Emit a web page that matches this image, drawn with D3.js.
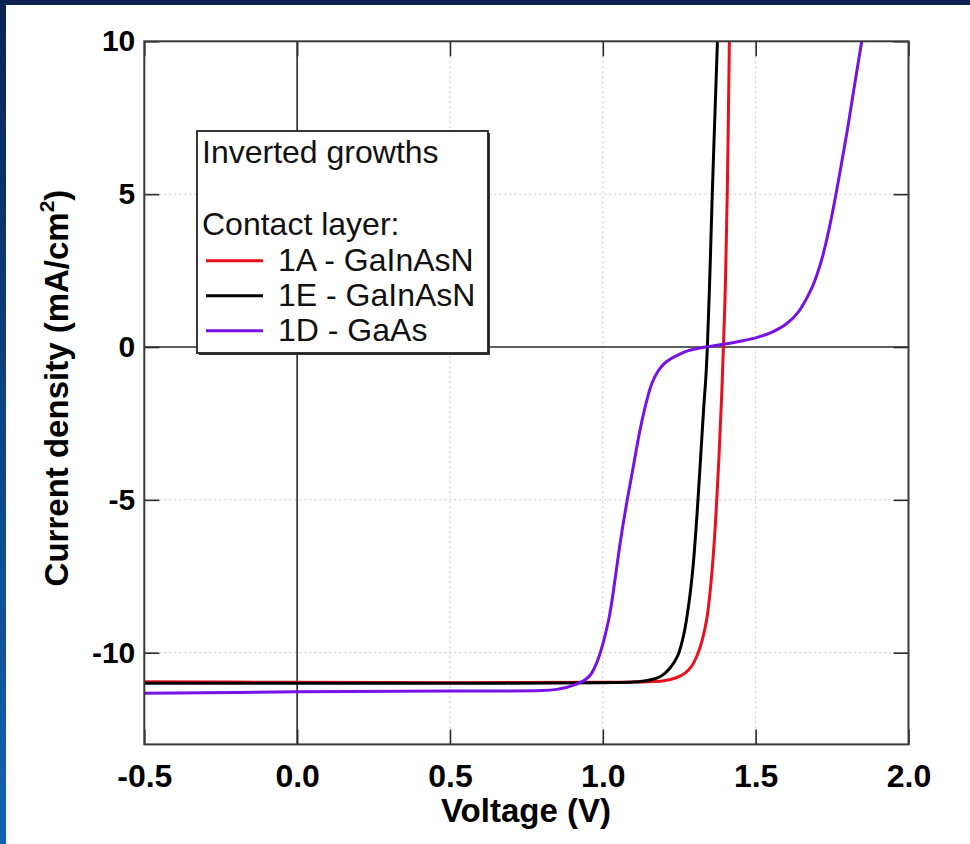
<!DOCTYPE html>
<html>
<head>
<meta charset="utf-8">
<script src="https://cdn.jsdelivr.net/npm/d3@7"></script>
<style>
  html, body { margin: 0; padding: 0; background: #ffffff; }
  svg { display: block; }
  text { font-family: "Liberation Sans", Arial, Helvetica, sans-serif; }
</style>
</head>
<body>
<svg id="chart" width="970" height="844"></svg>
<script>
// J–V curves of inverted growths, one series per contact layer
const voltage1A = [-0.5, 0.0, 0.5, 1.0, 1.1, 1.2, 1.24, 1.27, 1.29, 1.31, 1.325, 1.34, 1.35, 1.36, 1.37, 1.38, 1.39, 1.40, 1.407, 1.414];
const current1A = [-10.95, -10.97, -10.98, -10.97, -10.96, -10.92, -10.82, -10.66, -10.45, -10.05, -9.6, -8.9, -8.1, -7.0, -5.5, -3.6, -1.3, 1.7, 5.0, 10.0];

const voltage1E = [-0.5, 0.0, 0.5, 1.0, 1.1, 1.15, 1.19, 1.22, 1.245, 1.265, 1.28, 1.295, 1.31, 1.32, 1.33, 1.337, 1.342, 1.35, 1.358, 1.375];
const current1E = [-11.0, -11.0, -11.0, -10.98, -10.96, -10.9, -10.77, -10.5, -10.1, -9.4, -8.5, -7.2, -5.2, -3.6, -2.0, -1.0, 0.0, 2.3, 5.0, 10.0];

const voltage1D = [-0.5, 0.0, 0.5, 0.8, 0.85, 0.88, 0.90, 0.92, 0.94, 0.96, 0.97, 0.98, 0.99, 1.00, 1.01, 1.02, 1.03, 1.04, 1.06, 1.08, 1.10, 1.12, 1.14, 1.16, 1.18, 1.20, 1.22, 1.25, 1.28, 1.31, 1.35, 1.40, 1.45, 1.50, 1.55, 1.60, 1.64, 1.68, 1.70, 1.72, 1.74, 1.76, 1.78, 1.80, 1.82, 1.847];
const current1D = [-11.33, -11.28, -11.25, -11.24, -11.2, -11.14, -11.08, -11.0, -10.9, -10.72, -10.55, -10.33, -10.05, -9.72, -9.33, -8.88, -8.3, -7.6, -6.2, -5.0, -3.9, -2.8, -1.9, -1.2, -0.8, -0.55, -0.4, -0.24, -0.12, -0.05, 0.02, 0.1, 0.19, 0.3, 0.47, 0.75, 1.15, 1.85, 2.35, 3.0, 3.85, 4.85, 5.95, 7.1, 8.35, 10.0];

const seriesNames = ["1A - GaInAsN", "1E - GaInAsN", "1D - GaAs"];
const seriesColors = ["#e8101a", "#000000", "#7612e6"];

const xTicks = [-0.5, 0.0, 0.5, 1.0, 1.5, 2.0];
const yTicks = [-10, -5, 0, 5, 10];
const xGrid = [0.5, 1.0, 1.5];
const yGrid = [-10, -5, 5];

const legendTitle = "Inverted growths";
const legendSubtitle = "Contact layer:";
const xTitle = "Voltage (V)";

const series = [
  { name: seriesNames[0], color: seriesColors[0], v: voltage1A, j: current1A },
  { name: seriesNames[1], color: seriesColors[1], v: voltage1E, j: current1E },
  { name: seriesNames[2], color: seriesColors[2], v: voltage1D, j: current1D }
];

const svg = d3.select("#chart");
const W = 970, H = 844;
const plot = { left: 144.3, right: 908.5, top: 41.3, bottom: 744.4 };

// page frame: dark band on top, blue gradient band on the left
const defs = svg.append("defs");
const grad = defs.append("linearGradient").attr("id", "sideBand")
  .attr("x1", 0).attr("y1", 0).attr("x2", 0).attr("y2", 1);
grad.append("stop").attr("offset", "0%").attr("stop-color", "#0b2552");
grad.append("stop").attr("offset", "100%").attr("stop-color", "#1262b2");
svg.append("rect").attr("width", W).attr("height", H).attr("fill", "#ffffff");
svg.append("rect").attr("x", 0).attr("y", 0).attr("width", W).attr("height", 5).attr("fill", "#0c2350");
svg.append("rect").attr("x", 0).attr("y", 0).attr("width", 6).attr("height", H).attr("fill", "url(#sideBand)");

const x = d3.scaleLinear().domain([-0.5, 2.0]).range([plot.left, plot.right]);
const y = d3.scaleLinear().domain([-13, 10]).range([plot.bottom, plot.top]);

defs.append("clipPath").attr("id", "plotClip").append("rect")
  .attr("x", plot.left).attr("y", plot.top)
  .attr("width", plot.right - plot.left).attr("height", plot.bottom - plot.top);

// dotted grid
const grid = svg.append("g").attr("stroke", "#c4c4c4").attr("stroke-width", 1).attr("stroke-dasharray", "2,3");
grid.selectAll(".gx").data(xGrid).join("line")
  .attr("x1", d => x(d)).attr("x2", d => x(d)).attr("y1", plot.top).attr("y2", plot.bottom);
grid.selectAll(".gy").data(yGrid).join("line")
  .attr("y1", d => y(d)).attr("y2", d => y(d)).attr("x1", plot.left).attr("x2", plot.right);

// zero lines
svg.append("line").attr("x1", x(0)).attr("x2", x(0)).attr("y1", plot.top).attr("y2", plot.bottom)
  .attr("stroke", "#2a2a2a").attr("stroke-width", 1.6);
svg.append("line").attr("y1", y(0)).attr("y2", y(0)).attr("x1", plot.left).attr("x2", plot.right)
  .attr("stroke", "#2a2a2a").attr("stroke-width", 1.6);

// inward ticks on all four sides
const tickLen = 15;
function styleAxis(size) {
  return g => {
    g.select(".domain").remove();
    g.selectAll(".tick line").attr("stroke", "#2a2a2a").attr("stroke-width", 1.6);
    g.selectAll(".tick text").attr("fill", "#000").attr("font-weight", "bold").attr("font-size", size);
  };
}
svg.append("g").attr("transform", `translate(0,${plot.bottom})`)
  .call(d3.axisBottom(x).tickValues(xTicks).tickSize(-tickLen).tickPadding(20).tickFormat(d => d.toFixed(1)))
  .call(styleAxis(32));
svg.append("g").attr("transform", `translate(0,${plot.top})`)
  .call(d3.axisTop(x).tickValues(xTicks).tickSize(-tickLen).tickFormat(""))
  .call(styleAxis(32));
svg.append("g").attr("transform", `translate(${plot.left},0)`)
  .call(d3.axisLeft(y).tickValues(yTicks).tickSize(-tickLen).tickPadding(9).tickFormat(d => String(d)))
  .call(styleAxis(30));
svg.append("g").attr("transform", `translate(${plot.right},0)`)
  .call(d3.axisRight(y).tickValues(yTicks).tickSize(-tickLen).tickFormat(""))
  .call(styleAxis(30));

// curves
const line = d3.line().x(d => x(d[0])).y(d => y(d[1])).curve(d3.curveCatmullRom.alpha(0.5));
svg.append("g").attr("clip-path", "url(#plotClip)")
  .selectAll("path").data(series).join("path")
  .attr("d", s => line(s.v.map((v, i) => [v, s.j[i]])))
  .attr("fill", "none").attr("stroke", s => s.color).attr("stroke-width", 3)
  .attr("stroke-linejoin", "round").attr("stroke-linecap", "round");

// plot frame
svg.append("rect").attr("x", plot.left).attr("y", plot.top)
  .attr("width", plot.right - plot.left).attr("height", plot.bottom - plot.top)
  .attr("fill", "none").attr("stroke", "#3a3a3a").attr("stroke-width", 2);

// axis titles
svg.append("text").attr("x", 526).attr("y", 822)
  .attr("text-anchor", "middle").attr("font-weight", "bold").attr("font-size", 33)
  .text(xTitle);
const yt = svg.append("text").attr("transform", `translate(68,388) rotate(-90)`)
  .attr("text-anchor", "middle").attr("font-weight", "bold").attr("font-size", 33);
yt.append("tspan").text("Current density (mA/cm");
yt.append("tspan").attr("font-size", 21).attr("dy", -14).text("2");
yt.append("tspan").attr("dy", 14).text(")");

// legend
const lg = { x: 197, y: 131, w: 291, h: 222 };
const legend = svg.append("g");
legend.append("rect").attr("x", lg.x + 2).attr("y", lg.y + 2).attr("width", lg.w).attr("height", lg.h).attr("fill", "#333");
legend.append("rect").attr("x", lg.x).attr("y", lg.y).attr("width", lg.w).attr("height", lg.h)
  .attr("fill", "#ffffff").attr("stroke", "#222").attr("stroke-width", 1.8);
legend.append("text").attr("x", 202).attr("y", 163).attr("font-size", 32).attr("fill", "#111").text(legendTitle);
legend.append("text").attr("x", 202).attr("y", 235).attr("font-size", 32).attr("fill", "#111").text(legendSubtitle);
const entries = legend.selectAll(".entry").data(series).join("g")
  .attr("transform", (d, i) => `translate(0,${270.7 + i * 35})`);
entries.append("line").attr("x1", 206).attr("x2", 263).attr("y1", -10).attr("y2", -10)
  .attr("stroke", d => d.color).attr("stroke-width", 3);
entries.append("text").attr("x", 278).attr("y", 0).attr("font-size", 32).attr("fill", "#111").text(d => d.name);
</script>
</body>
</html>
